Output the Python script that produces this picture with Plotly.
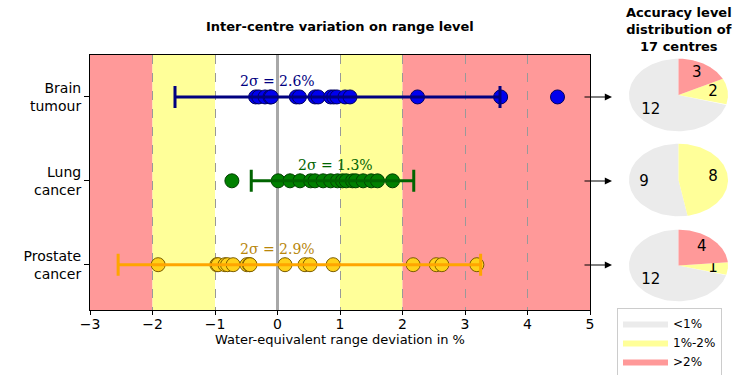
import numpy as np
import plotly.graph_objects as go

# ---------------- data ----------------
categories = ["Prostate<br>cancer", "Lung<br>cancer", "Brain<br>tumour"]

brain_vals = [-0.35, -0.30, -0.20, -0.12, -0.10, 0.30, 0.35, 0.60, 0.65, 0.85, 0.90, 0.95,
              1.08, 1.16, 2.24, 3.57, 4.48]
lung_vals = [-0.73, 0.01, 0.20, 0.36, 0.53, 0.60, 0.73, 0.85, 0.96,
             1.04, 1.10, 1.20, 1.25, 1.37, 1.50, 1.60, 1.84]
prostate_vals = [-1.91, -0.97, -0.95, -0.84, -0.80, -0.71, -0.49, -0.45, -0.44, 0.12, 0.44, 0.52, 0.89,
                 2.17, 2.54, 2.63, 3.19]

brain_mean, brain_2sigma = 0.96, 2.6
lung_mean, lung_2sigma = 0.88, 1.3
prostate_mean, prostate_2sigma = 0.35, 2.9

label_brain = "2σ = 2.6%"
label_lung = "2σ = 1.3%"
label_prostate = "2σ = 2.9%"
label_x = [0.0, 0.92, 0.0]

pie_labels = ["<1%", "1%-2%", ">2%"]
pie_brain = [12, 2, 3]
pie_lung = [9, 8, 0]
pie_prostate = [12, 1, 4]

x_ticks = [-3, -2, -1, 0, 1, 2, 3, 4, 5]

# ---------------- styles ----------------
W, H = 750, 375
OFF = 0  # page body margin removed via post_script
RED, YEL, GREY = "#ff9999", "#ffff99", "#ebebeb"
pie_colors = [GREY, YEL, RED]
legend_names = ["&lt;1%", "1%-2%", "&gt;2%"]
FONT = "DejaVu Sans"

def px_x(p):
    return (p - OFF) / W

def px_y(p):
    return 1 - (p - OFF) / H

fig = go.Figure()

series = [
    (categories[2], brain_vals, brain_mean, brain_2sigma, "#0000ee", "#000060", "#000080"),
    (categories[1], lung_vals, lung_mean, lung_2sigma, "#008000", "#004000", "#006400"),
    (categories[0], prostate_vals, prostate_mean, prostate_2sigma, "#ffd11a", "#7a5c00", "#ffa500"),
]
for cat, vals, mean, s2, fc, ec, bc in series:
    fig.add_trace(go.Scatter(
        x=vals, y=[cat] * len(vals), mode="markers",
        marker=dict(size=14, color=fc, line=dict(color=ec, width=1)),
        showlegend=False, hoverinfo="skip", xaxis="x", yaxis="y"))
    fig.add_trace(go.Scatter(
        x=[mean], y=[cat], mode="markers",
        marker=dict(size=1, color="rgba(0,0,0,0)"),
        error_x=dict(type="data", array=[s2], symmetric=True, color=bc, thickness=3, width=11),
        showlegend=False, hoverinfo="skip", xaxis="x", yaxis="y"))

# sigma labels
for txt, xx, cat, col in zip([label_brain, label_lung, label_prostate], label_x,
                             [categories[2], categories[1], categories[0]],
                             ["#000080", "#006400", "#b8860b"]):
    fig.add_annotation(x=xx, y=cat, xref="x", yref="y", text=txt, showarrow=False,
                       xanchor="center", yanchor="middle",
                       yshift=16, font=dict(family="DejaVu Serif", size=14, color=col))

# background bands
bands = [(-3, -2, RED), (-2, -1, YEL), (1, 2, YEL), (2, 5, RED)]
for x0, x1, c in bands:
    fig.add_shape(type="rect", xref="x", yref="y domain", x0=x0, x1=x1, y0=0, y1=1,
                  fillcolor=c, line=dict(width=0), layer="below")

# pies
pie_sets = [(pie_brain, "2"), (pie_lung, "3"), (pie_prostate, "4")]
pie_domains_y = [(58, 132), (143, 217), (229, 302)]
for k, ((counts, ax), (t, b)) in enumerate(zip(pie_sets, pie_domains_y)):
    total = sum(counts)
    start = 90.0
    for i, c in enumerate(counts):
        if c == 0:
            continue
        sweep = 360.0 * c / total
        th = np.radians(np.linspace(start, start + sweep, 80))
        xs = np.concatenate([[0], np.cos(th), [0]])
        ys = np.concatenate([[0], np.sin(th), [0]])
        fig.add_trace(go.Scatter(
            x=xs, y=ys, mode="lines", fill="toself", fillcolor=pie_colors[i],
            line=dict(width=0, color=pie_colors[i]), name=legend_names[i],
            showlegend=(k == 0), legendgroup=pie_labels[i], hoverinfo="skip",
            xaxis="x" + ax, yaxis="y" + ax))
        mid = np.radians(start + sweep / 2)
        fig.add_trace(go.Scatter(
            x=[0.7 * np.cos(mid)], y=[0.7 * np.sin(mid)], mode="text", text=[str(c)],
            textfont=dict(family=FONT, size=15, color="black"), showlegend=False,
            hoverinfo="skip", xaxis="x" + ax, yaxis="y" + ax))
        start += sweep
    dom_x = [px_x(628), px_x(729)]
    dom_y = [px_y(b), px_y(t)]
    axdict = dict(range=[-1.02, 1.02], visible=False, fixedrange=True, automargin=False)
    fig.update_layout(**{
        "xaxis" + ax: dict(domain=dom_x, anchor="y" + ax, **axdict),
        "yaxis" + ax: dict(domain=dom_y, anchor="x" + ax, **axdict),
    })

# arrows
for yc in [97, 181, 265]:
    fig.add_annotation(x=px_x(612), y=px_y(yc), xref="paper", yref="paper",
                       ax=-29, ay=0, text="", showarrow=True, arrowhead=2,
                       arrowsize=1.2, arrowwidth=1.2, arrowcolor="black")

# titles
fig.add_annotation(x=px_x(340), y=px_y(27), xref="paper", yref="paper",
                   xanchor="center", yanchor="middle",
                   text="<b>Inter-centre variation on range level</b>", showarrow=False,
                   font=dict(family=FONT, size=13, color="black"))
fig.add_annotation(x=px_x(679), y=px_y(30), xref="paper", yref="paper",
                   xanchor="center", yanchor="middle",
                   text="<b>Accuracy level<br>distribution of<br>17 centres</b>", showarrow=False,
                   font=dict(family=FONT, size=13, color="black"))

fig.update_layout(
    width=W, height=H, margin=dict(l=0, r=0, t=0, b=0, autoexpand=False),
    paper_bgcolor="white", plot_bgcolor="white",
    font=dict(family=FONT, size=14, color="black"),
    xaxis=dict(domain=[px_x(90), px_x(590)], range=[-3, 5], tickvals=x_ticks,
               showgrid=True, gridcolor="#999999", griddash="dash", gridwidth=1,
               zeroline=True, zerolinecolor="#a8a8a8", zerolinewidth=3,
               showline=True, linecolor="black", linewidth=1, mirror=True,
               ticks="outside", ticklen=4, tickcolor="black", ticklabelstandoff=-3,
               tickfont=dict(size=14), automargin=False,
               title=dict(text="Water-equivalent range deviation in %", font=dict(size=13), standoff=0),
               anchor="y", fixedrange=True),
    yaxis=dict(domain=[px_y(310), px_y(55)], type="category", categoryarray=categories,
               range=[-0.54, 2.5], showgrid=False, zeroline=False,
               showline=True, linecolor="black", linewidth=1, mirror=True,
               ticks="outside", ticklen=5, tickcolor="black", tickfont=dict(size=14),
               automargin=False, anchor="x", fixedrange=True),
    legend=dict(x=px_x(617), y=px_y(308), xanchor="left", yanchor="top",
                bgcolor="white", bordercolor="#cccccc", borderwidth=1,
                font=dict(size=12), itemwidth=45, tracegroupgap=0),
    showlegend=True,
)

fig.write_html("out.html", config={"displayModeBar": False},
               post_script="document.body.style.margin='0px';")
